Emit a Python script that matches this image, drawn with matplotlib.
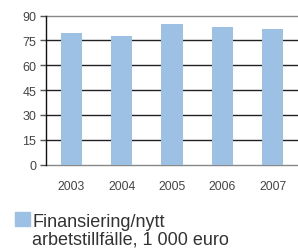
import matplotlib.pyplot as plt
from matplotlib.patches import Rectangle

years = ['2003', '2004', '2005', '2006', '2007']
values = [79.5, 77.7, 85.0, 83.2, 82.0]
yticks = [0, 15, 30, 45, 60, 75, 90]
legend_lines = ['Finansiering/nytt', 'arbetstillfälle, 1 000 euro']

plt.rcParams['font.family'] = ['Liberation Sans', 'DejaVu Sans']

bar_color = '#9dc0e5'
W, H = 298, 253
fig = plt.figure(figsize=(W / 100, H / 100), dpi=100)
ax = fig.add_axes([46 / W, 1 - 165.7 / H, 1 - 46 / W, (165.7 - 16.5) / H])

# grid lines first, bars over them
for t in yticks:
    col = '#888888' if t in (0, 90) else '#222222'
    ax.axhline(t, color=col, lw=1.0, zorder=1, clip_on=False)

ax.bar(range(len(years)), values, width=0.42, color=bar_color, zorder=2)

ax.set_xlim(-0.5, 4.5)
ax.set_ylim(0, 90)
ax.set_yticks(yticks)
ax.set_xticks(range(len(years)))
ax.set_xticklabels(years)

for s in ['top', 'right', 'bottom']:
    ax.spines[s].set_visible(False)
ax.spines['left'].set_color('#111111')
ax.spines['left'].set_linewidth(1.0)
ax.spines['left'].set_zorder(3)

ax.tick_params(axis='y', length=4, width=1.0, color='#555555', labelsize=9,
               labelcolor='#444444', pad=3)
ax.tick_params(axis='x', length=0, labelsize=8.7, labelcolor='#444444', pad=11)

# legend drawn by hand under the chart
fig.patches.append(Rectangle((15 / W, 1 - 227 / H), 15 / W, 14 / H,
                             transform=fig.transFigure, color=bar_color))
fig.text(32 / W, 1 - 227 / H, legend_lines[0], fontsize=13, color='#333333',
         va='baseline', ha='left')
fig.text(32 / W, 1 - 245 / H, legend_lines[1], fontsize=13, color='#333333',
         va='baseline', ha='left')

fig.savefig('out.png', dpi=100)
